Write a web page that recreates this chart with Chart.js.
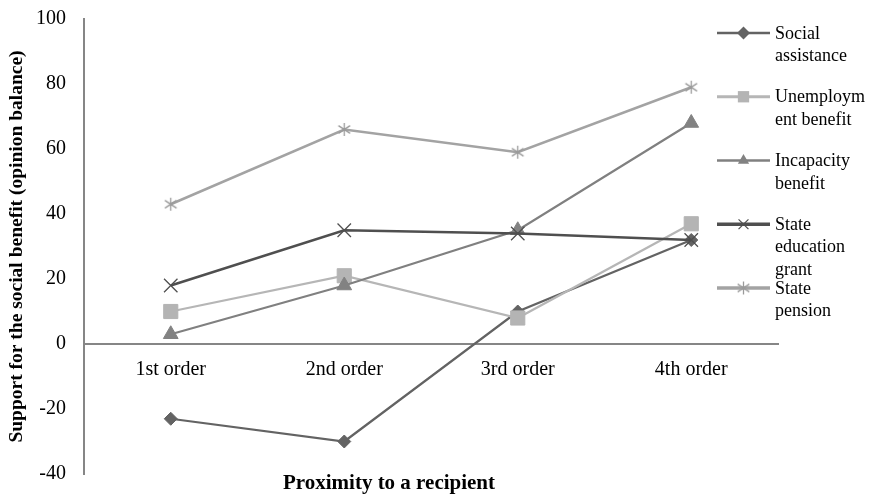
<!DOCTYPE html>
<html>
<head>
<meta charset="utf-8">
<script src="https://cdn.jsdelivr.net/npm/chart.js@4/dist/chart.umd.min.js"></script>
<style>
  html, body { margin: 0; padding: 0; background: #ffffff; }
  canvas { display: block; }
</style>
</head>
<body>
<canvas id="chart" width="870" height="495"></canvas>
<script>
// Categories and series values
const categories = ['1st order', '2nd order', '3rd order', '4th order'];
const socialAssistance    = [-23, -30, 10, 32];
const unemploymentBenefit = [10, 21, 8, 37];
const incapacityBenefit   = [3, 18, 35, 68];
const stateEducationGrant = [18, 35, 34, 32];
const statePension        = [43, 66, 59, 79];

// Legend labels (wrapped the way they are shown)
const seriesLabels = [
  ['Social', 'assistance'],
  ['Unemploym', 'ent benefit'],
  ['Incapacity', 'benefit'],
  ['State', 'education', 'grant'],
  ['State', 'pension']
];
const yTickValues = [-40, -20, 0, 20, 40, 60, 80, 100];

const SERIF = '"Liberation Serif", "Times New Roman", serif';
const AXIS_GREY = '#868686';

// Asterisk marker (vertical bar plus an X)
function asteriskMarker(size, color, lw) {
  const c = document.createElement('canvas');
  c.width = size; c.height = size;
  const g = c.getContext('2d');
  g.strokeStyle = color;
  g.lineWidth = lw;
  const m = size / 2, r = size / 2 - 1;
  g.beginPath();
  g.moveTo(m, m - r); g.lineTo(m, m + r);
  const dx = r * 0.9, dy = r * 0.6;
  g.moveTo(m - dx, m - dy); g.lineTo(m + dx, m + dy);
  g.moveTo(m + dx, m - dy); g.lineTo(m - dx, m + dy);
  g.stroke();
  return c;
}

const styles = [
  { line: '#636363', fill: '#636363', point: 'rectRot', radius: 6.5, lw: 2.25, legendLw: 2.5 },
  { line: '#b6b6b6', fill: '#b4b4b4', point: 'rect', radius: 10, lw: 2.25, legendLw: 3 },
  { line: '#808080', fill: '#828282', point: 'triangle', radius: 8.5, lw: 2.25, legendLw: 2.5 },
  { line: '#4f4f4f', fill: '#4f4f4f', point: 'crossRot', radius: 9.5, lw: 2.5, legendLw: 3.5 },
  { line: '#a3a3a3', fill: '#9a9a9a', point: asteriskMarker(15, '#9a9a9a', 1.3), radius: 7, lw: 2.5, legendLw: 3.5 }
];

const seriesValues = [socialAssistance, unemploymentBenefit, incapacityBenefit, stateEducationGrant, statePension];

const datasets = seriesValues.map((vals, i) => {
  const s = styles[i];
  return {
    label: seriesLabels[i].join(' '),
    data: vals,
    borderColor: s.line,
    backgroundColor: s.fill,
    borderWidth: s.lw,
    pointStyle: s.point,
    pointRadius: s.radius,
    pointHoverRadius: s.radius,
    pointBackgroundColor: s.fill,
    pointBorderColor: s.fill,
    pointBorderWidth: s.point === 'crossRot' ? 1.3 : 1,
    tension: 0,
    fill: false,
    order: seriesValues.length - i
  };
});

// Draws a small marker for the legend samples
function drawMarker(ctx, style, x, y, r, color) {
  ctx.save();
  ctx.fillStyle = color;
  ctx.strokeStyle = color;
  ctx.lineWidth = 1.2;
  ctx.beginPath();
  if (style === 'rectRot') {
    ctx.moveTo(x, y - r); ctx.lineTo(x + r, y); ctx.lineTo(x, y + r); ctx.lineTo(x - r, y);
    ctx.closePath(); ctx.fill();
  } else if (style === 'rect') {
    const h = r * Math.SQRT1_2;
    ctx.rect(x - h, y - h, 2 * h, 2 * h); ctx.fill();
  } else if (style === 'triangle') {
    ctx.moveTo(x, y - r);
    ctx.lineTo(x + r * 0.866, y + r * 0.5);
    ctx.lineTo(x - r * 0.866, y + r * 0.5);
    ctx.closePath(); ctx.fill();
  } else if (style === 'crossRot') {
    const d = r * Math.SQRT1_2;
    ctx.moveTo(x - d, y - d); ctx.lineTo(x + d, y + d);
    ctx.moveTo(x + d, y - d); ctx.lineTo(x - d, y + d);
    ctx.stroke();
  } else if (style instanceof HTMLCanvasElement) {
    ctx.drawImage(style, x - style.width / 2, y - style.height / 2);
  }
  ctx.restore();
}

// Legend to the right of the plot, one entry per series
const sideLegend = {
  id: 'sideLegend',
  afterDraw(chart) {
    const ctx = chart.ctx;
    const area = chart.chartArea;
    const x0 = area.right - 61, x1 = area.right - 8, textX = area.right - 3;
    const top = 33, step = 63.75, lineH = 22.5;
    ctx.save();
    ctx.font = '18px ' + SERIF;
    ctx.fillStyle = '#000000';
    ctx.textAlign = 'left';
    ctx.textBaseline = 'middle';
    seriesLabels.forEach((lines, i) => {
      const s = styles[i];
      const y = top + i * step;
      ctx.strokeStyle = s.line;
      ctx.lineWidth = s.legendLw;
      ctx.beginPath();
      ctx.moveTo(x0, y); ctx.lineTo(x1, y);
      ctx.stroke();
      const mr = s.point === 'rect' ? 8 : (s.point === 'crossRot' ? 7 : 6.5);
      drawMarker(ctx, s.point, (x0 + x1) / 2, y, mr, s.fill);
      lines.forEach((t, k) => ctx.fillText(t, textX, y + k * lineH + 1));
    });
    ctx.restore();
  }
};

new Chart(document.getElementById('chart'), {
  type: 'line',
  data: { labels: categories, datasets },
  plugins: [sideLegend],
  options: {
    responsive: false,
    animation: false,
    devicePixelRatio: 1,
    layout: { padding: { top: 19, right: 92, bottom: 0, left: 0 } },
    plugins: {
      legend: { display: false },
      tooltip: { enabled: false },
      title: {
        display: true,
        position: 'bottom',
        text: 'Proximity to a recipient',
        color: '#000000',
        font: { family: SERIF, size: 21, weight: 'bold', lineHeight: 1 },
        padding: { top: -1, bottom: 1 }
      }
    },
    scales: {
      x: {
        type: 'category',
        position: { y: 0 },
        offset: true,
        grid: { display: false, drawTicks: false },
        border: { display: true, color: AXIS_GREY, width: 2 },
        ticks: {
          color: '#000000',
          font: { family: SERIF, size: 20 },
          padding: 14,
          maxRotation: 0,
          autoSkip: false
        }
      },
      y: {
        type: 'linear',
        min: -40,
        max: 100,
        afterBuildTicks: (scale) => { scale.ticks = yTickValues.map(v => ({ value: v })); },
        afterFit: (scale) => {
          scale.width = 84;
          scale.paddingTop = 0;
          scale.paddingBottom = 0;
        },
        grid: { display: false, drawTicks: false },
        border: { display: true, color: AXIS_GREY, width: 2 },
        ticks: {
          color: '#000000',
          font: { family: SERIF, size: 20 },
          padding: 18
        },
        title: {
          display: true,
          text: 'Support for the social benefit (opinion balance)',
          color: '#000000',
          font: { family: SERIF, size: 19.5, weight: 'bold', lineHeight: 1.2 },
          padding: { top: 5, bottom: 0 }
        }
      }
    }
  }
});
</script>
</body>
</html>
